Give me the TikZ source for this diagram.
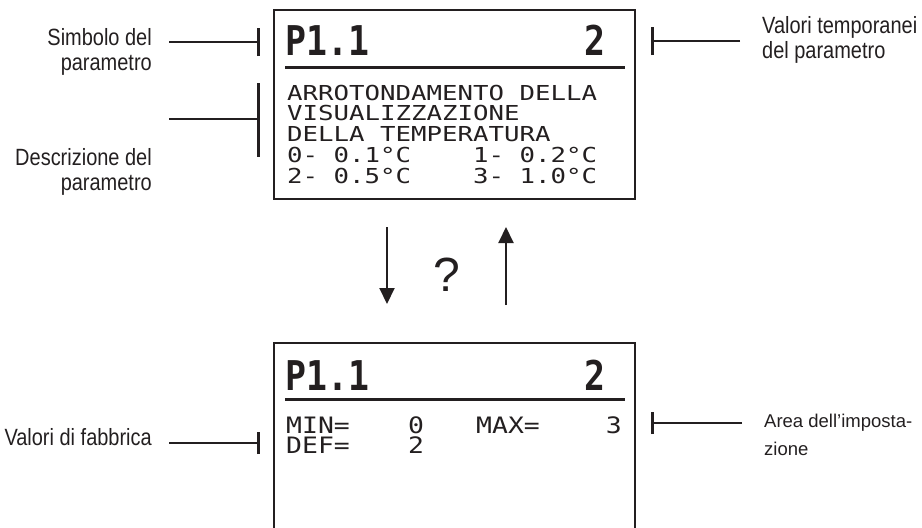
\documentclass[tikz,border=0pt]{standalone}
\usepackage{fontspec}
\setmainfont{Liberation Sans}
\newfontfamily\lblfont[FakeStretch=0.85]{Liberation Sans}
\newfontfamily\lcdfont[FakeStretch=1.25]{DejaVu Sans Mono}
\newfontfamily\lcdsmall[FakeStretch=1.17]{DejaVu Sans Mono}
\newfontfamily\lcdbig[FakeStretch=0.85]{DejaVu Sans Mono}
\usetikzlibrary{arrows.meta}

\begin{document}
\begin{tikzpicture}[
    x=1pt, y=-1pt,
    every node/.style={inner sep=0pt, text=ink},
    lbl/.style={font=\lblfont\fontsize{23.5}{25}\selectfont},
    smalllbl/.style={font=\fontsize{18.5}{28}\selectfont},
    lcd/.style={font=\lcdfont\fontsize{20.6}{20.7}\selectfont, anchor=base west, align=left},
    lcdrow/.style={font=\lcdsmall\fontsize{22.6}{20}\selectfont, text height=16.5pt, text depth=0pt},
    lcdhead/.style={font=\lcdbig\bfseries\fontsize{41}{41}\selectfont},
    frame/.style={draw=ink, line width=1.3pt},
    rule/.style={draw=ink, line width=3pt},
    leader/.style={draw=ink, line width=1.6pt},
    tick/.style={draw=ink, line width=3pt},
    flow/.style={draw=ink, line width=2pt, -{Triangle[width=15pt,length=16pt]}}
]
\definecolor{ink}{HTML}{231F20}
\useasboundingbox (0,0) rectangle (922,528);

% upper screen
\draw[frame] (274,10) rectangle (635,199);
\draw[rule] (285,67) -- (625,67);
\node[lcdhead, anchor=base west] (symtop) at (285,55) {P1.1};
\node[lcdhead, anchor=base east] (valtop) at (606,55) {2};
\node[lcd] (desc) at (287,183) {ARROTONDAMENTO DELLA\\VISUALIZZAZIONE\\DELLA TEMPERATURA\\0- 0.1°C~~~~1- 0.2°C\\2- 0.5°C~~~~3- 1.0°C};

% lower screen
\draw[frame] (274,530) -- (274,343) -- (635,343) -- (635,530);
\draw[rule] (285,399) -- (625,399);
\node[lcdhead, anchor=base west] (symbot) at (285,390) {P1.1};
\node[lcdhead, anchor=base east] (valbot) at (606,390) {2};
\node[lcdrow, anchor=base west] (minkey) at (286,433) {MIN=};
\node[lcdrow, anchor=base west] (minval) at (408,433) {0};
\node[lcdrow, anchor=base west] (maxkey) at (476,433) {MAX=};
\node[lcdrow, anchor=base east] (maxval) at (622,433) {3};
\node[lcdrow, anchor=base west] (defkey) at (286,453) {DEF=};
\node[lcdrow, anchor=base west] (defval) at (408,453) {2};

% labels
\node[lbl, align=right, anchor=base east] (lblsym) at (152,70) {Simbolo del\\parametro};
\node[lbl, align=right, anchor=base east] (lbldesc) at (152,190) {Descrizione del\\parametro};
\node[lbl, align=left, anchor=base west] (lbltemp) at (762,58) {Valori temporanei\\del parametro};
\node[lbl, anchor=base east] (lblfab) at (152,445) {Valori di fabbrica};
\node[smalllbl, align=left, anchor=base west] (lblarea) at (764,455) {Area dell’imposta-\\zione};

% leader lines
\coordinate (symA) at (169,42);  \coordinate (symB) at (258,42);
\coordinate (descA) at (169,119); \coordinate (descB) at (258,119);
\coordinate (tempA) at (740,41); \coordinate (tempB) at (652,41);
\coordinate (fabA) at (169,443); \coordinate (fabB) at (258,443);
\coordinate (areaA) at (742,423); \coordinate (areaB) at (652,423);
\draw[leader] (symA) -- (symB);
\draw[tick] ([yshift=-14pt]symB) -- ([yshift=14pt]symB);
\draw[leader] (descA) -- (descB);
\draw[tick] (258,83) -- (258,157);
\draw[leader] (tempA) -- (tempB);
\draw[tick] ([yshift=-14pt]tempB) -- ([yshift=14pt]tempB);
\draw[leader] (fabA) -- (fabB);
\draw[tick] ([yshift=-11pt]fabB) -- ([yshift=11pt]fabB);
\draw[leader] (areaA) -- (areaB);
\draw[tick] ([yshift=-11pt]areaB) -- ([yshift=11pt]areaB);

% switching arrows
\coordinate (dnA) at (387,227); \coordinate (dnB) at (387,304);
\coordinate (upA) at (506,305); \coordinate (upB) at (506,227);
\draw[flow] (dnA) -- (dnB);
\draw[flow] (upA) -- (upB);
\node[font=\fontsize{48}{48}\selectfont] (query) at (447,275) {?};
\end{tikzpicture}
\end{document}
